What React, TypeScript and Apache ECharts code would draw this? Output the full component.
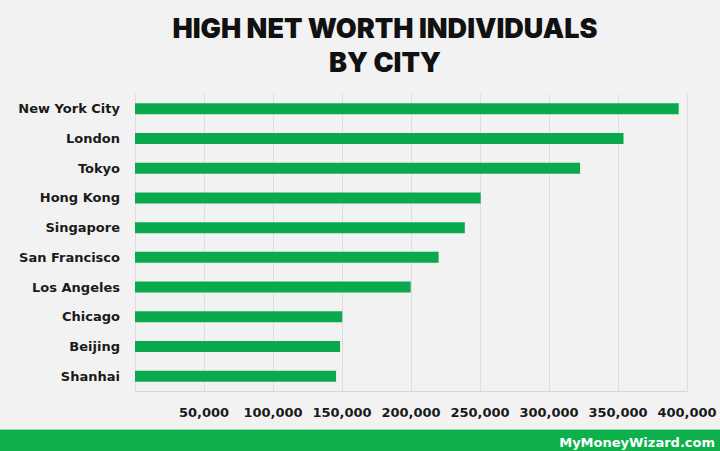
import React, { useEffect, useRef } from "react";
import * as echarts from "echarts";

const cities = [
  "New York City",
  "London",
  "Tokyo",
  "Hong Kong",
  "Singapore",
  "San Francisco",
  "Los Angeles",
  "Chicago",
  "Beijing",
  "Shanhai",
];
const individuals = [394000, 354000, 322500, 250500, 239000, 220000, 199800, 150200, 148600, 145700];
const titleLines = ["HIGH NET WORTH INDIVIDUALS", "BY CITY"];
const watermark = "MyMoneyWizard.com";

export default function App() {
  const ref = useRef<HTMLDivElement>(null);
  useEffect(() => {
    document.body.style.margin = "0";
    const chart = echarts.init(ref.current!, null, { renderer: "svg" });
    chart.setOption({
      animation: false,
      backgroundColor: "#f2f2f2",
      grid: { left: 135, right: 33, top: 94, height: 297, containLabel: false },
      xAxis: {
        type: "value",
        min: 0,
        max: 400000,
        interval: 50000,
        axisLine: { show: true, lineStyle: { color: "#d6d6d6", width: 1 } },
        axisTick: { show: false },
        splitLine: { show: true, lineStyle: { color: "#dedede", width: 1 } },
        axisLabel: {
          margin: 15,
          color: "#1a1a1a",
          fontFamily: "DejaVu Sans",
          fontWeight: "bold",
          fontSize: 13,
          formatter: (v: number) => (v === 0 ? "" : v.toLocaleString("en-US")),
        },
      },
      yAxis: {
        type: "category",
        data: cities,
        inverse: true,
        axisLine: { show: false },
        axisTick: { show: false },
        axisLabel: {
          margin: 15,
          color: "#1a1a1a",
          fontFamily: "DejaVu Sans",
          fontWeight: "bold",
          fontSize: 13,
        },
      },
      series: [
        {
          type: "bar",
          data: individuals,
          barWidth: 11,
          itemStyle: { color: "#0aa94e" },
        },
      ],
      graphic: [
        {
          type: "text",
          x: 385,
          y: 28,
          style: {
            text: titleLines[0],
            fill: "#111",
            font: "900 27px Inter",
            textAlign: "center",
            textVerticalAlign: "middle",
          },
        },
        {
          type: "text",
          x: 385,
          y: 62,
          style: {
            text: titleLines[1],
            fill: "#111",
            font: "900 27px Inter",
            textAlign: "center",
            textVerticalAlign: "middle",
          },
        },
        {
          type: "rect",
          shape: { x: 0, y: 430, width: 720, height: 21 },
          style: { fill: "#0db04b" },
        },
        {
          type: "rect",
          shape: { x: 0, y: 429, width: 720, height: 1 },
          style: { fill: "#8fdcaa" },
        },
        {
          type: "text",
          x: 715,
          y: 442,
          style: {
            text: watermark,
            fill: "#ffffff",
            font: "bold 13px 'DejaVu Sans'",
            textAlign: "right",
            textVerticalAlign: "middle",
          },
        },
      ],
    });
    return () => chart.dispose();
  }, []);
  return <div ref={ref} style={{ width: 720, height: 451 }} />;
}
